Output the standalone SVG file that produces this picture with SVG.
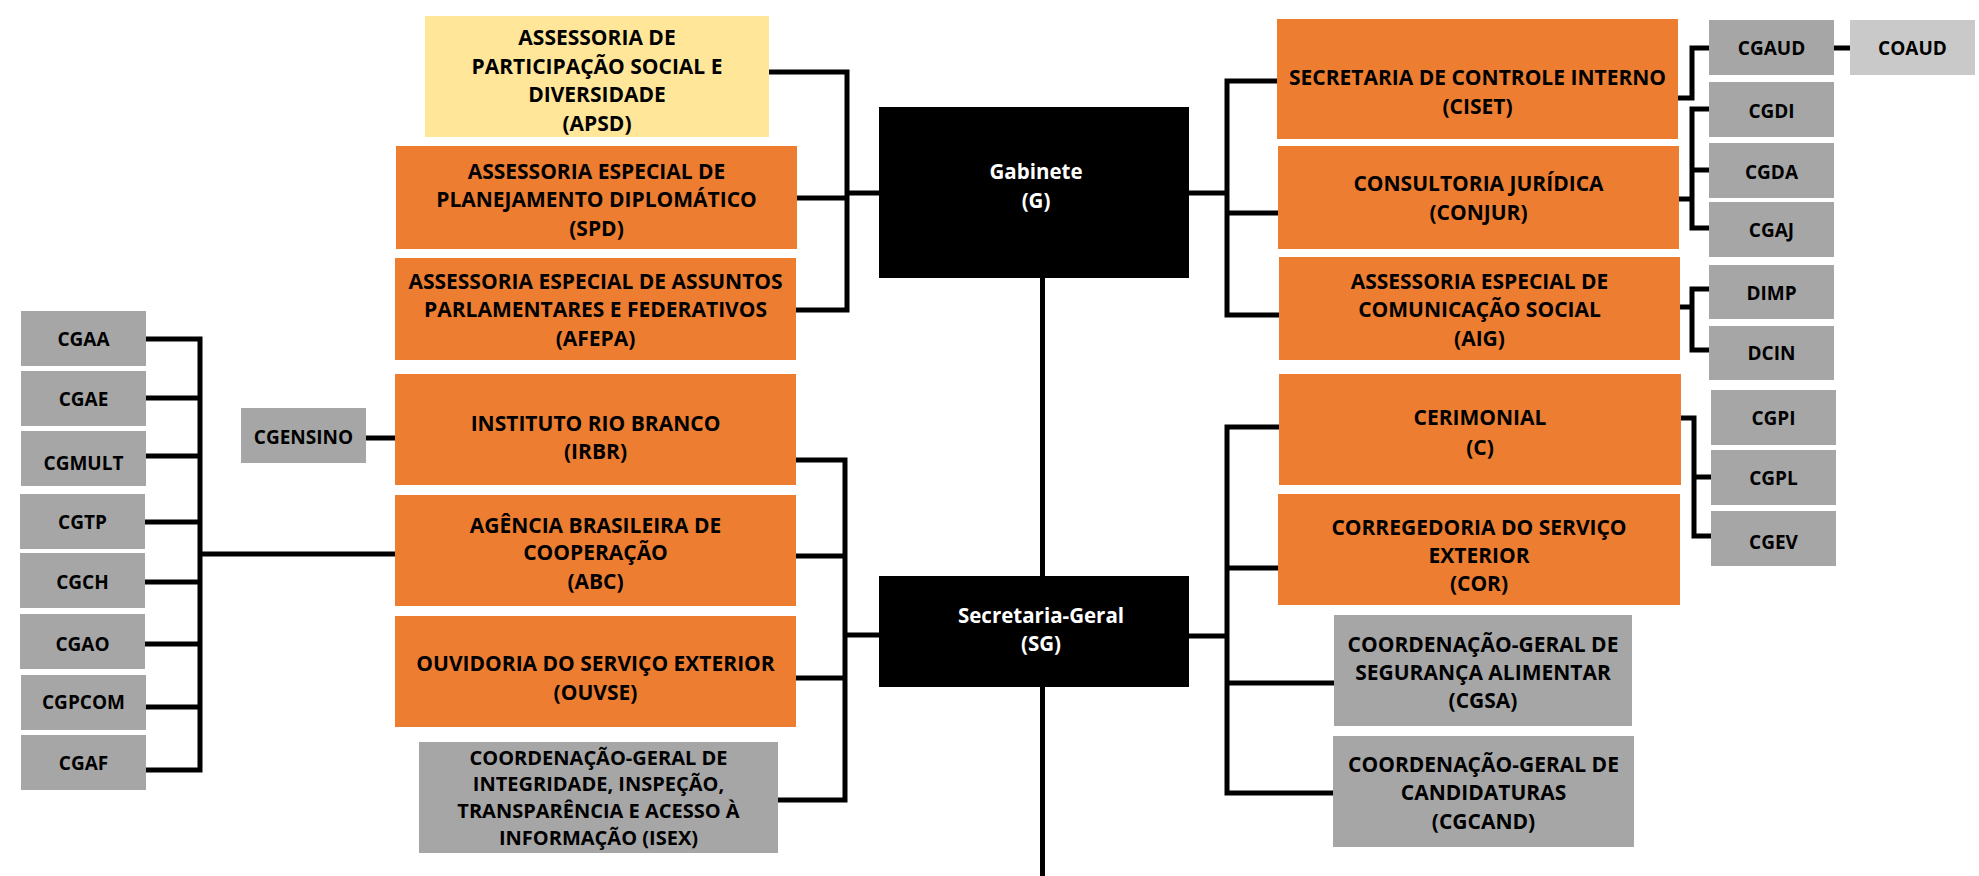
<svg xmlns="http://www.w3.org/2000/svg" width="1979" height="876" viewBox="0 0 1979 876">
<style>
.o{fill:#ED7D31}.g{fill:#A6A6A6}.y{fill:#FFE699}.lg{fill:#C9C9C9}.k{fill:#000}
text{font-family:"Open Sans","Liberation Sans",sans-serif;font-weight:700;font-size:21px;text-anchor:middle;fill:#000}
.w{fill:#fff;font-size:20.5px}
.s{font-size:19px}
.i{font-size:20px}
.c path{fill:none;stroke:#000;stroke-width:5;stroke-linecap:square;stroke-linejoin:miter}
</style>
<rect width="1979" height="876" fill="#fff"/>
<g class="c" id="connectors">
<path d="M769 72H847M797 198H847M796 310H847M847 72V310M847 193H879"/>
<path d="M1189 193H1227M1227 81V315M1227 81H1277M1227 213H1278M1227 315H1279"/>
<path d="M1678 98H1692V48H1709M1834 48H1850"/>
<path d="M1679 199H1692M1692 109V228M1692 109H1709M1692 170H1709M1692 228H1709"/>
<path d="M1680 307H1692M1692 289V350M1692 289H1709M1692 350H1709"/>
<path d="M1042.5 278V576M1042.5 687V876"/>
<path d="M796 460H845M796 556H845M796 678H845M778 800H845M845 460V800M845 635H879"/>
<path d="M1189 636H1227M1227 427V793M1227 427H1279M1227 568H1278M1227 683H1334M1227 793H1333"/>
<path d="M1681 418H1694M1694 418V536M1694 477H1711M1694 536H1711"/>
<path d="M146 339H200M146 398H200M146 456H200M145 522H200M145 582H200M145 644H200M146 707H200M146 770H200M200 339V770M200 554H395"/>
<path d="M366 438H395"/>
</g>
<g id="apsd"><rect class="y" x="425" y="16" width="344" height="121"/><text x="597" y="44.5">ASSESSORIA DE</text><text x="597" y="73.5">PARTICIPAÇÃO SOCIAL E</text><text x="597" y="101.5">DIVERSIDADE</text><text x="597" y="130.5">(APSD)</text></g>
<g id="spd"><rect class="o" x="396" y="146" width="401" height="103"/><text x="596.5" y="178.5">ASSESSORIA ESPECIAL DE</text><text x="596.5" y="206.5">PLANEJAMENTO DIPLOMÁTICO</text><text x="596.5" y="235.5">(SPD)</text></g>
<g id="afepa"><rect class="o" x="395" y="258" width="401" height="102"/><text x="595.5" y="288.5">ASSESSORIA ESPECIAL DE ASSUNTOS</text><text x="595.5" y="317">PARLAMENTARES E FEDERATIVOS</text><text x="595.5" y="345.5">(AFEPA)</text></g>
<g id="irbr"><rect class="o" x="395" y="374" width="401" height="111"/><text x="595.5" y="430.5">INSTITUTO RIO BRANCO</text><text x="595.5" y="458.5">(IRBR)</text></g>
<g id="abc"><rect class="o" x="395" y="495" width="401" height="111"/><text x="595.5" y="532.5">AGÊNCIA BRASILEIRA DE</text><text x="595.5" y="560">COOPERAÇÃO</text><text x="595.5" y="589">(ABC)</text></g>
<g id="ouvse"><rect class="o" x="395" y="616" width="401" height="111"/><text x="595.5" y="670.5">OUVIDORIA DO SERVIÇO EXTERIOR</text><text x="595.5" y="699.5">(OUVSE)</text></g>
<g id="isex"><rect class="g" x="419" y="742" width="359" height="111"/><text class="i" x="598.5" y="764.5">COORDENAÇÃO-GERAL DE</text><text class="i" x="598.5" y="790.5">INTEGRIDADE, INSPEÇÃO,</text><text class="i" x="598.5" y="817.5">TRANSPARÊNCIA E ACESSO À</text><text class="i" x="598.5" y="844.5">INFORMAÇÃO (ISEX)</text></g>
<g id="cgensino"><rect class="g" x="241" y="408" width="125" height="55"/><text class="s" x="303.5" y="444">CGENSINO</text></g>
<g id="cgaa"><rect class="g" x="21" y="311" width="125" height="55"/><text class="s" x="83.5" y="346">CGAA</text></g>
<g id="cgae"><rect class="g" x="21" y="371" width="125" height="55"/><text class="s" x="83.5" y="406">CGAE</text></g>
<g id="cgmult"><rect class="g" x="21" y="431" width="125" height="55"/><text class="s" x="83.5" y="469.5">CGMULT</text></g>
<g id="cgtp"><rect class="g" x="20" y="494" width="125" height="55"/><text class="s" x="82.5" y="529">CGTP</text></g>
<g id="cgch"><rect class="g" x="20" y="553" width="125" height="55"/><text class="s" x="82.5" y="589">CGCH</text></g>
<g id="cgao"><rect class="g" x="20" y="614" width="125" height="55"/><text class="s" x="82.5" y="651">CGAO</text></g>
<g id="cgpcom"><rect class="g" x="21" y="675" width="125" height="55"/><text class="s" x="83.5" y="709">CGPCOM</text></g>
<g id="cgaf"><rect class="g" x="21" y="735" width="125" height="55"/><text class="s" x="83.5" y="770">CGAF</text></g>
<g id="gabinete"><rect class="k" x="879" y="107" width="310" height="171"/><text class="w" x="1036" y="179">Gabinete</text><text class="w" x="1036" y="208">(G)</text></g>
<g id="sg"><rect class="k" x="879" y="576" width="310" height="111"/><text class="w" x="1041" y="623">Secretaria-Geral</text><text class="w" x="1041" y="651">(SG)</text></g>
<g id="ciset"><rect class="o" x="1277" y="19" width="401" height="120"/><text x="1477.5" y="84.5">SECRETARIA DE CONTROLE INTERNO</text><text x="1477.5" y="113.5">(CISET)</text></g>
<g id="conjur"><rect class="o" x="1278" y="146" width="401" height="103"/><text x="1478.5" y="190.5">CONSULTORIA JURÍDICA</text><text x="1478.5" y="219.5">(CONJUR)</text></g>
<g id="aig"><rect class="o" x="1279" y="257" width="401" height="103"/><text x="1479.5" y="288.5">ASSESSORIA ESPECIAL DE</text><text x="1479.5" y="316.5">COMUNICAÇÃO SOCIAL</text><text x="1479.5" y="345.5">(AIG)</text></g>
<g id="cerimonial"><rect class="o" x="1279" y="374" width="402" height="111"/><text x="1480" y="424.5">CERIMONIAL</text><text x="1480" y="454.5">(C)</text></g>
<g id="cor"><rect class="o" x="1278" y="494" width="402" height="111"/><text x="1479" y="534.5">CORREGEDORIA DO SERVIÇO</text><text x="1479" y="562.5">EXTERIOR</text><text x="1479" y="590.5">(COR)</text></g>
<g id="cgsa"><rect class="g" x="1334" y="615" width="298" height="111"/><text x="1483" y="651.5">COORDENAÇÃO-GERAL DE</text><text x="1483" y="679.5">SEGURANÇA ALIMENTAR</text><text x="1483" y="707.5">(CGSA)</text></g>
<g id="cgcand"><rect class="g" x="1333" y="736" width="301" height="111"/><text x="1483.5" y="771.5">COORDENAÇÃO-GERAL DE</text><text x="1483.5" y="799.5">CANDIDATURAS</text><text x="1483.5" y="828.5">(CGCAND)</text></g>
<g id="cgaud"><rect class="g" x="1709" y="20" width="125" height="55"/><text class="s" x="1771.5" y="55">CGAUD</text></g>
<g id="coaud"><rect class="lg" x="1850" y="20" width="125" height="55"/><text class="s" x="1912.5" y="55">COAUD</text></g>
<g id="cgdi"><rect class="g" x="1709" y="82" width="125" height="55"/><text class="s" x="1771.5" y="118">CGDI</text></g>
<g id="cgda"><rect class="g" x="1709" y="143" width="125" height="55"/><text class="s" x="1771.5" y="179">CGDA</text></g>
<g id="cgaj"><rect class="g" x="1709" y="202" width="125" height="55"/><text class="s" x="1771.5" y="237">CGAJ</text></g>
<g id="dimp"><rect class="g" x="1709" y="265" width="125" height="54"/><text class="s" x="1771.5" y="300">DIMP</text></g>
<g id="dcin"><rect class="g" x="1709" y="326" width="125" height="54"/><text class="s" x="1771.5" y="360">DCIN</text></g>
<g id="cgpi"><rect class="g" x="1711" y="390" width="125" height="55"/><text class="s" x="1773.5" y="425">CGPI</text></g>
<g id="cgpl"><rect class="g" x="1711" y="450" width="125" height="55"/><text class="s" x="1773.5" y="485">CGPL</text></g>
<g id="cgev"><rect class="g" x="1711" y="511" width="125" height="55"/><text class="s" x="1773.5" y="549">CGEV</text></g>
</svg>
